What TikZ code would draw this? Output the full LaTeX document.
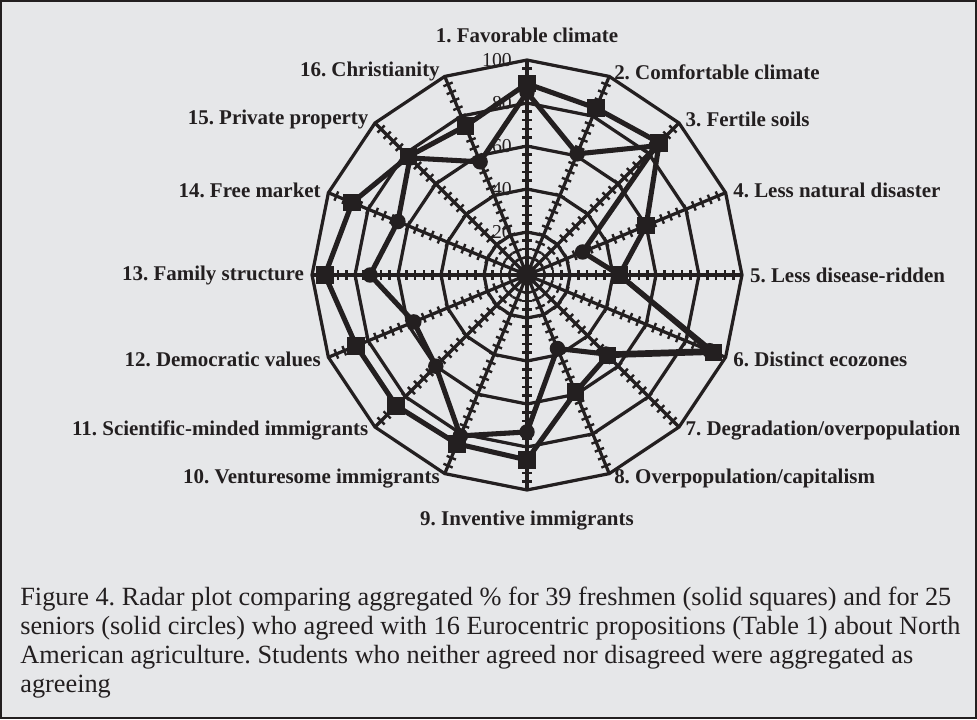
\documentclass[tikz,border=0pt]{standalone}
\usepackage{fontspec}
\setmainfont{Liberation Serif}
\frenchspacing
\definecolor{panelgray}{HTML}{E6E7E9}
\definecolor{inkblack}{HTML}{231F20}
\tikzset{
  gridline/.style={inkblack,line width=2.3pt,line join=miter},
  tickline/.style={inkblack,line width=1.7pt},
  dataline/.style={inkblack,line width=3.6pt,line join=round},
  sqmark/.style={rectangle,fill=inkblack,minimum size=12.5pt,inner sep=0pt},
  cimark/.style={circle,fill=inkblack,minimum size=11pt,inner sep=0pt},
  catlabel/.style={font=\fontsize{14.9}{16}\selectfont\bfseries,text=inkblack,inner sep=2pt},
  ringlabel/.style={font=\fontsize{14}{15}\selectfont,text=inkblack,anchor=east,inner sep=0pt},
  captext/.style={font=\fontsize{18.7}{20}\selectfont,text=inkblack,anchor=base west,inner sep=0pt},
}
\begin{document}
\begin{tikzpicture}[x=0.025cm,y=0.025cm]
\pgfmathsetmacro{\rscale}{2.15}
\fill[panelgray] (0,0) rectangle (977,719);
\draw[inkblack,line width=1.5pt] (1,1) rectangle (976,718);
\coordinate (ctr) at (527,444);
\begin{scope}[shift={(ctr)}]
% scale values on the top axis
\foreach \v in {20,40,...,100}{\node[ringlabel] (ring\v) at (-15,\v*\rscale) {\v};}
% rings, axes and ticks
\foreach \v in {20,40,...,100}{\draw[gridline] (90:\v*\rscale) \foreach \k in {1,...,15}{ -- (90-22.5*\k:\v*\rscale)} -- cycle;}
\foreach \k in {0,...,15}{
  \begin{scope}[rotate=90-22.5*\k]
  \draw[gridline] (0,0) -- (100*\rscale,0);
  \foreach \t in {4,8,...,96}{\draw[tickline] (\t*\rscale,-5) -- (\t*\rscale,5);}
  \end{scope}}
% data: freshmen (squares) and seniors (circles)
\foreach \i/\s/\c in {1/89/85,2/84/61,3/87/85,4/60/28,5/43/43,6/94/92,7/53/52,8/59/37,
  9/86/73,10/85/81,11/86/60,12/86/57,13/94/73,14/88/65,15/78/77,16/75/57}{
  \pgfmathsetmacro{\ang}{112.5-22.5*\i}
  \coordinate (sq\i) at (\ang:\s*\rscale);
  \coordinate (ci\i) at (\ang:\c*\rscale);}
\draw[dataline] (ci1) \foreach \i in {2,...,16}{ -- (ci\i)} -- cycle;
\draw[dataline] (sq1) \foreach \i in {2,...,16}{ -- (sq\i)} -- cycle;
\foreach \i in {1,...,16}{\node[cimark] (cim\i) at (ci\i) {}; \node[sqmark] (sqm\i) at (sq\i) {};}
% category labels
\foreach \i/\lab/\anc/\d in {1/{1. Favorable climate}/south/229,2/{2. Comfortable climate}/west/220,
  3/{3. Fertile soils}/west/220,4/{4. Less natural disaster}/west/220,5/{5. Less disease-ridden}/west/220,
  6/{6. Distinct ecozones}/west/220,7/{7. Degradation/overpopulation}/west/220,
  8/{8. Overpopulation/capitalism}/west/220,9/{9. Inventive immigrants}/north/233,
  10/{10. Venturesome immigrants}/east/220,11/{11. Scientific-minded immigrants}/east/220,
  12/{12. Democratic values}/east/220,13/{13. Family structure}/east/220,14/{14. Free market}/east/220,
  15/{15. Private property}/east/220,16/{16. Christianity}/east/220}{
  \pgfmathsetmacro{\ang}{112.5-22.5*\i}
  \node[catlabel,anchor=\anc] (cat\i) at (\ang:\d) {\lab};}
\end{scope}
% caption
\foreach \n/\y/\txt in {1/606/{Figure 4. Radar plot comparing aggregated \% for 39 freshmen (solid squares) and for 25},
  2/635/{seniors (solid circles) who agreed with 16 Eurocentric propositions (Table 1) about North},
  3/664/{American agriculture. Students who neither agreed nor disagreed were aggregated as},
  4/693/{agreeing}}{\node[captext] (cap\n) at (20,719-\y) {\txt};}
\end{tikzpicture}
\end{document}
